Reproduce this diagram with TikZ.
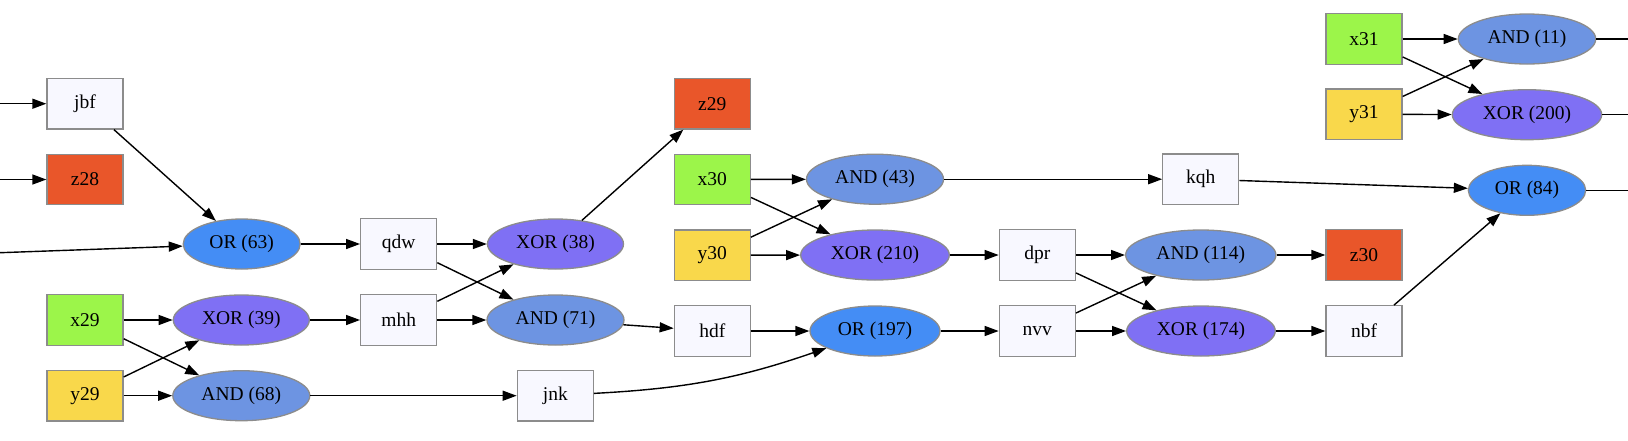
\documentclass[tikz,border=0pt]{standalone}
\usepackage{fontspec}
\setmainfont{Liberation Serif}
\usetikzlibrary{arrows.meta,shapes.geometric}
\definecolor{xin}{HTML}{9CF54A}
\definecolor{yin}{HTML}{F9D84B}
\definecolor{zout}{HTML}{E9562A}
\definecolor{wire}{HTML}{F8F8FF}
\definecolor{andc}{HTML}{6D94E2}
\definecolor{xorc}{HTML}{7F70F4}
\definecolor{orc}{HTML}{448DF5}
\definecolor{bord}{HTML}{8C8C8C}
\tikzset{
  base/.style={draw=bord, line width=1.3pt, inner sep=0pt, font=\fontsize{19.5}{23}\selectfont, text=black},
  boxn/.style={base, rectangle, minimum width=76pt, minimum height=50.5pt},
  wirebox/.style={boxn, fill=wire},
  xbox/.style={boxn, fill=xin},
  ybox/.style={boxn, fill=yin},
  zbox/.style={boxn, fill=zout},
  gate/.style={base, ellipse, minimum height=50pt},
  andg/.style={gate, fill=andc},
  xorg/.style={gate, fill=xorc},
  org/.style={gate, fill=orc},
  edge/.style={line width=1.4pt, -{Triangle[length=14pt,width=10pt]}},
  plain/.style={line width=1.4pt}
}
\begin{document}
\begin{tikzpicture}[x=1pt,y=-1pt]
\useasboundingbox (0,0) rectangle (1628,440);
% column 0
\node[wirebox] (jbf) at (85,103.7) {jbf};
\node[zbox] (z28) at (85,179.5) {z28};
\node[xbox] (x29) at (85,320) {x29};
\node[ybox] (y29) at (85,395.7) {y29};
% column 1
\node[org, minimum width=117pt] (or63) at (241.7,244) {OR (63)};
\node[xorg, minimum width=136pt] (xor39) at (241.3,320) {XOR (39)};
\node[andg, minimum width=137pt] (and68) at (241.3,395.7) {AND (68)};
% column 2
\node[wirebox] (qdw) at (398.7,244) {qdw};
\node[wirebox] (mhh) at (398.7,320) {mhh};
% column 3
\node[xorg, minimum width=136pt] (xor38) at (555.5,244) {XOR (38)};
\node[andg, minimum width=137pt] (and71) at (555.5,320) {AND (71)};
\node[wirebox] (jnk) at (555.3,395.7) {jnk};
% column 4
\node[zbox] (z29) at (712.3,103.7) {z29};
\node[xbox] (x30) at (712.3,179.5) {x30};
\node[ybox] (y30) at (712.3,255.2) {y30};
\node[wirebox] (hdf) at (712.3,331) {hdf};
% column 5
\node[andg, minimum width=137pt] (and43) at (875,179.2) {AND (43)};
\node[xorg, minimum width=148.6pt] (xor210) at (875,255) {XOR (210)};
\node[org, minimum width=130pt] (or197) at (875,331) {OR (197)};
% column 6
\node[wirebox] (dpr) at (1037.3,255) {dpr};
\node[wirebox] (nvv) at (1037.3,331) {nvv};
% column 7
\node[wirebox] (kqh) at (1200.8,179.2) {kqh};
\node[andg, minimum width=150.3pt] (and114) at (1200.8,255) {AND (114)};
\node[xorg, minimum width=148.6pt] (xor174) at (1201,331) {XOR (174)};
% column 8
\node[xbox] (x31) at (1364,39) {x31};
\node[ybox] (y31) at (1364,114.3) {y31};
\node[zbox] (z30) at (1364,255) {z30};
\node[wirebox] (nbf) at (1364,331) {nbf};
% column 9
\node[andg, minimum width=137.4pt] (and11) at (1527,39) {AND (11)};
\node[xorg, minimum width=149.4pt] (xor200) at (1527,114.7) {XOR (200)};
\node[org, minimum width=117.4pt] (or84) at (1527,190.3) {OR (84)};
% free ends
\coordinate (injbf) at (0,103.7);
\coordinate (inz28) at (0,179.5);
\coordinate (inor63) at (0,252.7);
\coordinate (outand11) at (1628,39);
\coordinate (outxor200) at (1628,114.7);
\coordinate (outor84) at (1628,190.3);
% edges
\draw[edge] (injbf) -- (jbf);
\draw[edge] (inz28) -- (z28);
\draw[edge] (inor63) -- (or63);
\draw[edge] (jbf) -- (or63);
\draw[edge] (x29) -- (xor39);
\draw[edge] (x29) -- (and68);
\draw[edge] (y29) -- (xor39);
\draw[edge] (y29) -- (and68);
\draw[edge] (or63) -- (qdw);
\draw[edge] (xor39) -- (mhh);
\draw[edge] (and68) -- (jnk);
\draw[edge] (qdw) -- (xor38);
\draw[edge] (qdw) -- (and71);
\draw[edge] (mhh) -- (xor38);
\draw[edge] (mhh) -- (and71);
\draw[edge] (xor38) -- (z29);
\draw[edge] (and71) -- (hdf);
\draw[edge] (jnk) to[bend right=8] (or197);
\draw[edge] (hdf) -- (or197);
\draw[edge] (x30) -- (and43);
\draw[edge] (x30) -- (xor210);
\draw[edge] (y30) -- (and43);
\draw[edge] (y30) -- (xor210);
\draw[edge] (and43) -- (kqh);
\draw[edge] (xor210) -- (dpr);
\draw[edge] (or197) -- (nvv);
\draw[edge] (dpr) -- (and114);
\draw[edge] (dpr) -- (xor174);
\draw[edge] (nvv) -- (and114);
\draw[edge] (nvv) -- (xor174);
\draw[edge] (and114) -- (z30);
\draw[edge] (xor174) -- (nbf);
\draw[edge] (kqh) -- (or84);
\draw[edge] (nbf) -- (or84);
\draw[edge] (x31) -- (and11);
\draw[edge] (x31) -- (xor200);
\draw[edge] (y31) -- (and11);
\draw[edge] (y31) -- (xor200);
\draw[plain] (and11) -- (outand11);
\draw[plain] (xor200) -- (outxor200);
\draw[plain] (or84) -- (outor84);
\end{tikzpicture}
\end{document}
